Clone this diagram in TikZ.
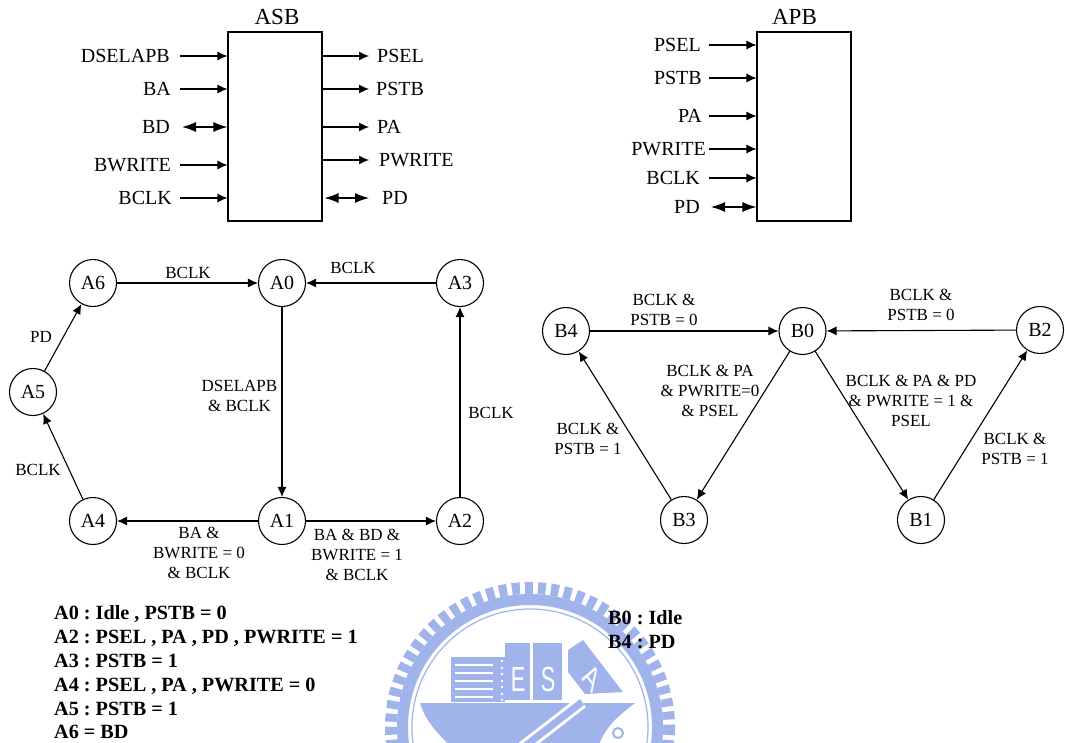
\documentclass[tikz,border=0pt]{standalone}
\usepackage{fontspec}
\setmainfont{Liberation Serif}
\setsansfont{Liberation Sans}
\usepackage{xcolor}
\usetikzlibrary{arrows.meta}
\definecolor{sealblue}{HTML}{A0B3EA}
\tikzset{
	state/.style = {draw, circle, line width = 1.1pt, minimum size = 47pt, inner sep = 0pt, font = \fontsize{20}{22}\selectfont},
	block/.style = {draw, rectangle, line width = 1.1pt, minimum width = 94pt, minimum height = 189pt},
	title/.style = {inner sep = 0pt, font = \fontsize{23}{25}\selectfont},
	pin/.style = {inner sep = 0pt, text height = 13pt, text depth = 0pt, font = \fontsize{20}{22}\selectfont},
	edgetext/.style = {inner sep = 0pt, align = center, font = \fontsize{17}{20}\selectfont},
	note/.style = {anchor = west, inner sep = 0pt, text height = 13pt, text depth = 0pt, font = \bfseries\frenchspacing\fontsize{20.2}{22}\selectfont},
	wire/.style = {line width = 1.1pt, -{Latex[length = 10pt, width = 9pt]}},
	bus/.style = {line width = 1.2pt, {Latex[length = 14pt, width = 10pt]}-{Latex[length = 14pt, width = 10pt]}},
	sealtext/.style = {text = white, inner sep = 0pt, xscale = .62, transform shape, font = \sffamily\fontsize{35}{35}\selectfont}
}
\begin{document}
\begin{tikzpicture}[x = 1pt, y = -1pt]
	\useasboundingbox (0,0) rectangle (1065,742);
	% seal behind the notes
	\begin{scope}
	\clip (0,0) rectangle (1065,742);
	\draw [sealblue, line width = 12pt, dash pattern = on 8pt off 5pt] (530,727) circle (139);
	\draw [sealblue, line width = 11pt] (530,727) circle (127.5);
	\draw [sealblue, line width = 1.2pt] (530,727) circle (118);
	\fill [sealblue] (451,657) rectangle (505,702);
	\fill [sealblue] (505,643) rectangle (530,700);
	\fill [sealblue] (533,643) rectangle (562,700);
	\fill [sealblue] (583,640) -- (623,692) -- (585,694) -- (568,672) -- (568,650) -- cycle;
	\fill [sealblue] (420,703) -- (635,703) .. controls (620,715) and (605,725) .. (597,750) -- (455,750) .. controls (438,735) and (425,720) .. (420,703) -- cycle;
	\draw [white, line width = 1.5pt] (455,665) -- (493,665) (455,673) -- (493,673) (455,681) -- (493,681) (455,689) -- (493,689) (455,697) -- (493,697);
	\draw [white, line width = 2pt, dash pattern = on 2pt off 4.5pt] (502,660) -- (502,702);
	\draw [white, line width = 13pt] (582,702) -- (520,750);
	\draw [sealblue, line width = 7pt] (582,702) -- (520,750);
	\draw [sealblue, line width = 2pt] (618,733) circle (5);
	\node [sealtext] (sealE) at (518,679) {E};
	\node [sealtext] (sealS) at (548,679) {S};
	\node [sealtext, rotate = -40] (sealA) at (592,678) {A};
	\end{scope}
	% ASB
	\node [block] (asb) at (275,126.5) {};
	\node [title] (asbname) at (277,17) {ASB};
	\node [pin, anchor = east] (dselapb) at (170,56) {DSELAPB};
	\node [pin, anchor = east] (ba) at (171,89) {BA};
	\node [pin, anchor = east] (bd) at (170,127) {BD};
	\node [pin, anchor = east] (bwrite) at (171,165) {BWRITE};
	\node [pin, anchor = east] (bclka) at (172,198) {BCLK};
	\node [pin, anchor = west] (psela) at (377,56) {PSEL};
	\node [pin, anchor = west] (pstba) at (376,89) {PSTB};
	\node [pin, anchor = west] (paa) at (377,127) {PA};
	\node [pin, anchor = west] (pwritea) at (379,160) {PWRITE};
	\node [pin, anchor = west] (pda) at (382,198) {PD};
	\draw [wire] ([xshift = 10]dselapb.east) -- (dselapb.east -| asb.west);
	\draw [wire] ([xshift = 9]ba.east) -- (ba.east -| asb.west);
	\draw [bus] ([xshift = 12]bd.east) -- (bd.east -| asb.west);
	\draw [wire] ([xshift = 9]bwrite.east) -- (bwrite.east -| asb.west);
	\draw [wire] ([xshift = 8]bclka.east) -- (bclka.east -| asb.west);
	\draw [wire] (psela.west -| asb.east) -- ([xshift = -8]psela.west);
	\draw [wire] (pstba.west -| asb.east) -- ([xshift = -7]pstba.west);
	\draw [wire] (paa.west -| asb.east) -- ([xshift = -8]paa.west);
	\draw [wire] (pwritea.west -| asb.east) -- ([xshift = -10]pwritea.west);
	\draw [bus] ([xshift = 2]pda.west -| asb.east) -- ([xshift = -13]pda.west);
	% APB
	\node [block] (apb) at (804,126.5) {};
	\node [title] (apbname) at (794.5,17) {APB};
	\node [pin, anchor = east] (pselb) at (701,45) {PSEL};
	\node [pin, anchor = east] (pstbb) at (702,78) {PSTB};
	\node [pin, anchor = east] (pab) at (702,116) {PA};
	\node [pin, anchor = east] (pwriteb) at (706,149) {PWRITE};
	\node [pin, anchor = east] (bclkb) at (700,178) {BCLK};
	\node [pin, anchor = east] (pdb) at (700,207) {PD};
	\draw [wire] ([xshift = 8]pselb.east) -- (pselb.east -| apb.west);
	\draw [wire] ([xshift = 7]pstbb.east) -- (pstbb.east -| apb.west);
	\draw [wire] ([xshift = 7]pab.east) -- (pab.east -| apb.west);
	\draw [wire] ([xshift = 3]pwriteb.east) -- (pwriteb.east -| apb.west);
	\draw [wire] ([xshift = 9]bclkb.east) -- (bclkb.east -| apb.west);
	\draw [bus] ([xshift = 11]pdb.east) -- (pdb.east -| apb.west);
	% ASB states
	\node [state] (A0) at (282,283) {A0};
	\node [state] (A1) at (282,521) {A1};
	\node [state] (A2) at (460,521) {A2};
	\node [state] (A3) at (460,283) {A3};
	\node [state] (A4) at (93,521) {A4};
	\node [state] (A5) at (33,392) {A5};
	\node [state] (A6) at (93,283) {A6};
	\draw [wire] (A0) -- (A1);
	\draw [wire] (A1) -- (A2);
	\draw [wire] (A2) -- (A3);
	\draw [wire] (A3) -- (A0);
	\draw [wire] (A1) -- (A4);
	\draw [wire] (A4) -- (A5);
	\draw [wire] (A5) -- (A6);
	\draw [wire] (A6) -- (A0);
	\node [edgetext] (a60) at (188,273) {BCLK};
	\node [edgetext] (a30) at (353,268) {BCLK};
	\node [edgetext] (a56) at (41,337) {PD};
	\node [edgetext] (a45) at (38,470) {BCLK};
	\node [edgetext] (a01) at (239.5,396) {DSELAPB\\\& BCLK};
	\node [edgetext] (a23) at (491,413) {BCLK};
	\node [edgetext] (a14) at (199,553) {BA \&\\BWRITE = 0\\\& BCLK};
	\node [edgetext] (a12) at (357,555) {BA \& BD \&\\BWRITE = 1\\\& BCLK};
	% APB states
	\node [state] (B0) at (802.5,331) {B0};
	\node [state] (B1) at (921,520) {B1};
	\node [state] (B2) at (1040,330) {B2};
	\node [state] (B3) at (684,520) {B3};
	\node [state] (B4) at (566,331) {B4};
	\draw [wire] (B4) -- (B0);
	\draw [wire] (B2) -- (B0);
	\draw [wire] (B0) -- (B3);
	\draw [wire] (B3) -- (B4);
	\draw [wire] (B0) -- (B1);
	\draw [wire] (B1) -- (B2);
	\node [edgetext] (b40) at (664,310) {BCLK \&\\PSTB = 0};
	\node [edgetext] (b20) at (921,305) {BCLK \&\\PSTB = 0};
	\node [edgetext] (b03) at (710,391) {BCLK \& PA\\\& PWRITE=0\\\& PSEL};
	\node [edgetext] (b01) at (911,401) {BCLK \& PA \& PD\\\& PWRITE = 1 \&\\PSEL};
	\node [edgetext] (b34) at (588,439) {BCLK \&\\PSTB = 1};
	\node [edgetext] (b12) at (1015,449) {BCLK \&\\PSTB = 1};
	% notes
	\node [note] (noteA0) at (54,613) {A0 : Idle , PSTB = 0};
	\node [note] (noteA2) at (54,637) {A2 : PSEL , PA , PD , PWRITE = 1};
	\node [note] (noteA3) at (54,661) {A3 : PSTB = 1};
	\node [note] (noteA4) at (54,685) {A4 : PSEL , PA , PWRITE = 0};
	\node [note] (noteA5) at (54,709) {A5 : PSTB = 1};
	\node [note] (noteA6) at (54,732) {A6 = BD};
	\node [note] (noteB0) at (608,618) {B0 : Idle};
	\node [note] (noteB4) at (608,642) {B4 : PD};
\end{tikzpicture}
\end{document}
